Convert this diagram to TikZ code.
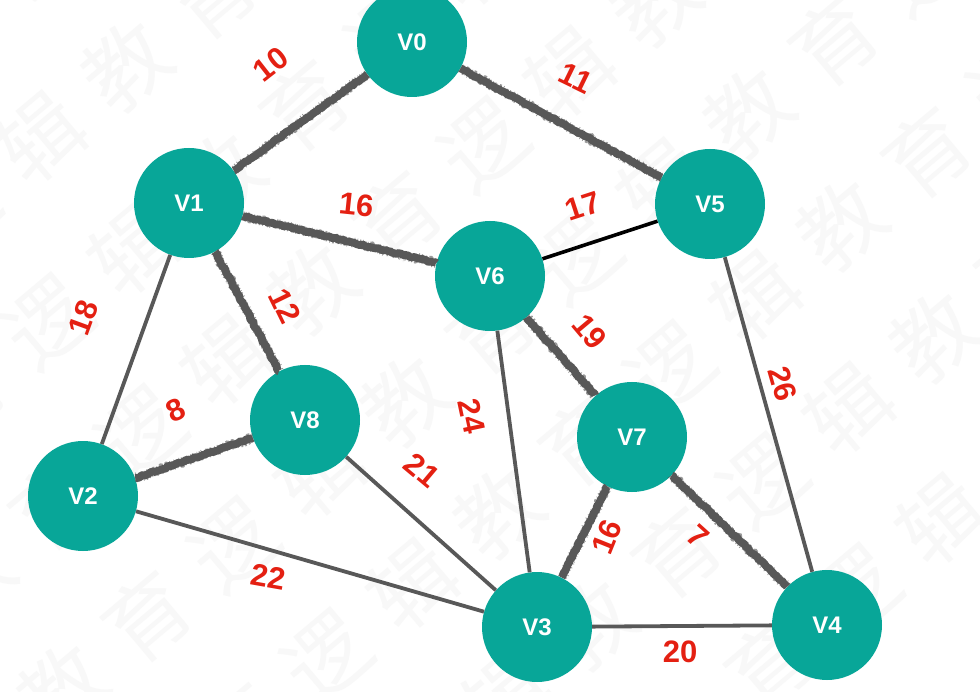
\documentclass[tikz,border=0pt]{standalone}
\usepackage{fontspec}
\setmainfont{Liberation Sans}
\newfontfamily\cjk{Noto Sans CJK SC}
\usetikzlibrary{decorations.pathmorphing}
\definecolor{teal}{RGB}{8,166,152}
\definecolor{edgegray}{RGB}{88,88,88}
\definecolor{lblred}{RGB}{228,32,18}
\definecolor{wmgray}{RGB}{248,248,248}
\newcommand\wmc[1]{\makebox[112pt]{#1}}
\tikzset{
  vtx/.style={circle, fill=teal, draw=none, minimum size=110pt, inner sep=0pt,
    text=white, font=\bfseries\fontsize{24}{24}\selectfont},
  lbl/.style={text=lblred, inner sep=0pt, font=\bfseries\fontsize{31}{31}\selectfont},
  plain/.style={draw=edgegray, line width=3.8pt},
  blackedge/.style={draw=black, line width=3.6pt},
  rough/.style={draw=edgegray, line width=7.8pt, line join=round,
    decorate, decoration={random steps, segment length=2.2pt, amplitude=0.8pt}},
  roughfuzz/.style={draw=edgegray, line width=9.6pt, dash pattern=on 0.8pt off 2.2pt,
    opacity=0.6, decorate, decoration={random steps, segment length=3pt, amplitude=1pt}},
  wm/.style={text=wmgray, anchor=west, rotate=40, inner sep=0pt,
    font=\cjk\fontsize{84}{84}\selectfont},
}
\begin{document}
\begin{tikzpicture}[x=1pt, y=-1pt]
\useasboundingbox (0,0) rectangle (980,692);
\fill[white] (0,0) rectangle (980,692);
% watermark
\begin{scope}
\clip (0,0) rectangle (980,692);
\foreach \n/\sx/\sy in {0/-525/422, 1/-432/534, 2/-339/646, 3/-246/757, 4/-153/869, 5/-60/981, 6/33/1093, 7/126/1204}{
  \node[wm] (wm\n) at (\sx,\sy) {\wmc{逻}\wmc{辑}\wmc{教}\wmc{育}\wmc{逻}\wmc{辑}\wmc{教}\wmc{育}\wmc{逻}\wmc{辑}\wmc{教}\wmc{育}\wmc{逻}\wmc{辑}\wmc{教}\wmc{育}};
}
\end{scope}
% vertices
\node[vtx] (v0) at (412,42) {V0};
\node[vtx] (v1) at (189,203) {V1};
\node[vtx] (v5) at (710,204) {V5};
\node[vtx] (v6) at (490,276) {V6};
\node[vtx] (v8) at (305,420) {V8};
\node[vtx] (v7) at (632,437) {V7};
\node[vtx] (v2) at (83,496) {V2};
\node[vtx] (v3) at (537,627) {V3};
\node[vtx] (v4) at (827,625) {V4};
% plain edges
\draw[plain] (v1) -- (v2);
\draw[plain] (v6) -- (v3);
\draw[plain] (v8) -- (v3);
\draw[plain] (v2) -- (v3);
\draw[plain] (v3) -- (v4);
\draw[plain] (v5) -- (v4);
\draw[blackedge] (v6) -- (v5);
% rough (highlighted) edges
\foreach \a/\b in {v0/v1, v0/v5, v1/v6, v1/v8, v8/v2, v6/v7, v7/v3, v7/v4}{
  \draw[rough] (\a) -- (\b);
  \draw[roughfuzz] (\a) -- (\b);
}
% edge labels
\node[lbl, rotate=38] (l01) at (271,64) {10};
\node[lbl, rotate=-26] (l05) at (576,78) {11};
\node[lbl, rotate=-6] (l16) at (357,205) {16};
\node[lbl, rotate=18] (l56) at (583,206) {17};
\node[lbl, rotate=-64] (l18) at (285,306) {12};
\node[lbl, rotate=70] (l12) at (83,318) {18};
\node[lbl, rotate=25] (l82) at (176,410) {8};
\node[lbl, rotate=-40] (l83) at (422,470) {21};
\node[lbl, rotate=-78] (l63) at (472,416) {24};
\node[lbl, rotate=-50] (l67) at (590,332) {19};
\node[lbl, rotate=-74] (l54) at (783,384) {26};
\node[lbl, rotate=68] (l73) at (607,537) {16};
\node[lbl, rotate=-42] (l74) at (698,536) {7};
\node[lbl, rotate=-10] (l23) at (268,577) {22};
\node[lbl] (l34) at (680,652) {20};
\end{tikzpicture}
\end{document}
